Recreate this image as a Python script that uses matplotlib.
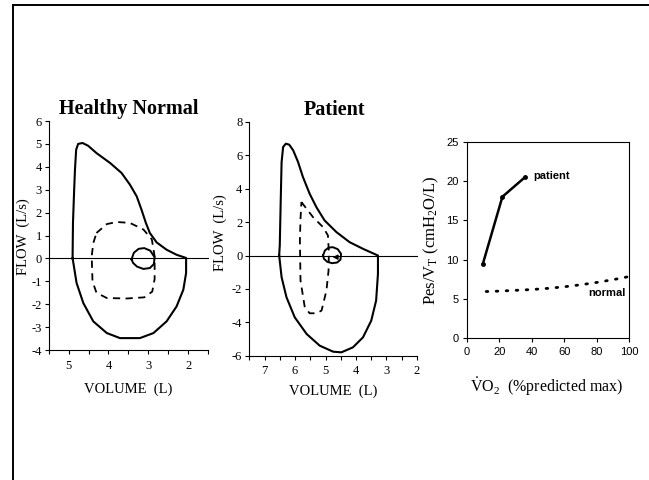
import numpy as np
import matplotlib
matplotlib.use("Agg")
import matplotlib.pyplot as plt
from matplotlib.lines import Line2D

plt.rcParams['font.family'] = ['Liberation Serif', 'DejaVu Serif']
plt.rcParams['mathtext.fontset'] = 'stix'
plt.rcParams['axes.unicode_minus'] = False

# healthy normal flow-volume loops (volume L, flow L/s)
normal_max_vol = [4.90, 4.89, 4.86, 4.84, 4.81, 4.76, 4.65, 4.51, 4.30, 3.96, 3.67, 3.46,
                  3.29, 3.17, 3.06, 2.96, 2.79, 2.54, 2.29, 2.05, 2.05, 2.12, 2.29, 2.54,
                  2.87, 3.21, 3.71, 4.04, 4.38, 4.63, 4.80, 4.88, 4.90]
normal_max_flow = [0.0, 1.55, 3.0, 3.87, 4.75, 5.0, 5.04, 4.92, 4.60, 4.17, 3.73, 3.22,
                   2.71, 2.13, 1.55, 1.11, 0.70, 0.38, 0.16, 0.02, -0.64, -1.37, -2.10, -2.75,
                   -3.26, -3.48, -3.48, -3.26, -2.75, -1.95, -1.07, -0.20, 0.0]
normal_ex_vol = [4.30, 4.04, 3.79, 3.46, 3.12, 2.91, 2.84, 2.84, 2.90, 3.10, 3.54, 4.04,
                 4.30, 4.40, 4.42, 4.38, 4.30]
normal_ex_flow = [1.11, 1.50, 1.59, 1.55, 1.26, 0.83, 0.09, -0.90, -1.45, -1.70, -1.75, -1.73,
                  -1.50, -1.00, 0.09, 0.67, 1.11]
normal_rest_vol = [3.42, 3.36, 3.24, 3.10, 2.95, 2.84, 2.86, 2.96, 3.12, 3.28, 3.38, 3.42]
normal_rest_flow = [-0.04, 0.25, 0.42, 0.45, 0.34, 0.05, -0.25, -0.42, -0.46, -0.36, -0.20, -0.04]

# patient flow-volume loops
patient_max_vol = [6.52, 6.50, 6.47, 6.44, 6.39, 6.30, 6.19, 6.06, 5.90, 5.74, 5.52, 5.30,
                   5.03, 4.64, 4.21, 3.77, 3.28, 3.28, 3.34, 3.50, 3.77, 4.10, 4.48, 4.75,
                   5.19, 5.62, 6.01, 6.28, 6.44, 6.52]
patient_max_flow = [0.0, 0.6, 3.2, 5.6, 6.5, 6.7, 6.64, 6.3, 5.6, 4.7, 3.7, 2.9,
                    2.1, 1.4, 0.8, 0.4, 0.0, -1.1, -2.7, -3.9, -4.9, -5.5, -5.8, -5.76,
                    -5.4, -4.7, -3.7, -2.5, -1.3, 0.0]
patient_ex_vol = [5.79, 5.41, 5.08, 4.92, 4.89, 4.90, 4.97, 5.13, 5.30, 5.52, 5.68, 5.82,
                  5.84, 5.82, 5.79]
patient_ex_flow = [3.20, 2.30, 1.70, 1.20, 0.20, -0.90, -2.10, -3.30, -3.46, -3.46, -3.10, -1.50,
                   0.90, 2.20, 3.20]
patient_rest_vol = [5.08, 5.02, 4.90, 4.76, 4.60, 4.49, 4.51, 4.62, 4.78, 4.94, 5.05, 5.08]
patient_rest_flow = [0.00, 0.30, 0.47, 0.50, 0.38, 0.10, -0.25, -0.42, -0.46, -0.38, -0.20, 0.00]

# Pes/VT vs VO2
patient_vo2 = [10, 22, 36]
patient_pes = [9.5, 18.0, 20.5]
normal_vo2 = [12, 20, 30, 40, 50, 60, 70, 80, 90, 100]
normal_pes = [5.95, 6.0, 6.1, 6.2, 6.35, 6.55, 6.8, 7.1, 7.45, 7.85]

fig = plt.figure(figsize=(6.49, 4.8), dpi=100)

# scanned page border
fig.add_artist(Line2D([12.8 / 649, 12.8 / 649], [0, 1 - 5 / 480], color='black', lw=1.4))
fig.add_artist(Line2D([12.8 / 649, 1], [1 - 5 / 480, 1 - 5 / 480], color='black', lw=1.4))


def loop_axes(rect, xlim, ylim, yticks, title, tx, ylab_x, ylab_y, xlab_y):
    ax = fig.add_axes(rect)
    ax.set_xlim(*xlim)
    ax.set_ylim(*ylim)
    for s in ['top', 'right']:
        ax.spines[s].set_visible(False)
    ax.spines['left'].set_linewidth(0.8)
    ax.spines['bottom'].set_linewidth(0.8)
    lo, hi = min(xlim), max(xlim)
    ticks = np.arange(lo, hi + 0.01, 0.5)
    ax.set_xticks(ticks)
    ax.set_xticklabels([str(int(v)) if float(v).is_integer() else '' for v in ticks])
    ax.set_yticks(yticks)
    ax.tick_params(direction='out', length=3, width=0.8, labelsize=9, pad=2)
    ax.tick_params(axis='x', pad=4)
    ax.axhline(0, color='black', lw=0.8, clip_on=False)
    ax.set_ylabel('FLOW  (L/s)', fontsize=10.5)
    ax.yaxis.set_label_coords(ylab_x, ylab_y)
    ax.set_xlabel('VOLUME  (L)', fontsize=10.5)
    ax.xaxis.set_label_coords(0.5, xlab_y)
    ax.text(tx, 1.052, title, transform=ax.transAxes, ha='center', va='center',
            fontsize=14.5, fontweight='bold')
    return ax


ax1 = loop_axes([0.0750, 0.2708, 0.2455, 0.4771], (5.5, 1.5), (-4, 6), range(-4, 7),
                'Healthy Normal', 0.504, -0.117, 0.493, -0.144)
ax1.plot(normal_max_vol, normal_max_flow, color='black', lw=1.5)
ax1.plot(normal_ex_vol, normal_ex_flow, color='black', lw=1.3, ls=(0, (4, 3)))
ax1.plot(normal_rest_vol, normal_rest_flow, color='black', lw=1.4)

ax2 = loop_axes([0.3841, 0.2590, 0.2584, 0.4869], (7.5, 2.0), (-6, 8), range(-6, 9, 2),
                'Patient', 0.511, -0.135, 0.525, -0.125)
ax2.plot(patient_max_vol, patient_max_flow, color='black', lw=1.5)
ax2.plot(patient_ex_vol, patient_ex_flow, color='black', lw=1.3, ls=(0, (4, 3)))
ax2.plot(patient_rest_vol, patient_rest_flow, color='black', lw=1.4)
ax2.annotate('', xy=(4.86, -0.1), xytext=(4.56, -0.1),
             arrowprops=dict(arrowstyle='-|>', color='black', lw=1.0, mutation_scale=7))

ax3 = fig.add_axes([0.7191, 0.2952, 0.2501, 0.4096])
ax3.set_xlim(0, 100)
ax3.set_ylim(0, 25)
ax3.set_xticks(range(0, 101, 20))
ax3.set_yticks(range(0, 26, 5))
for s in ax3.spines.values():
    s.set_linewidth(0.8)
ax3.tick_params(direction='out', length=3, width=0.8, labelsize=8, pad=3)
for lbl in ax3.get_xticklabels() + ax3.get_yticklabels():
    lbl.set_family('Liberation Sans')
ax3.plot(patient_vo2, patient_pes, color='black', lw=1.8, marker='o', ms=2.5)
ax3.plot(normal_vo2, normal_pes, color='black', lw=2.0, ls=(0, (0.6, 3.0)),
         dash_capstyle='round', clip_on=False)
ax3.text(41, 20.7, 'patient', fontsize=8, fontweight='bold', family='Liberation Sans',
         va='center', ha='left')
ax3.text(75, 5.8, 'normal', fontsize=8, fontweight='bold', family='Liberation Sans',
         va='center', ha='left')
ax3.set_ylabel(r'Pes/V$\mathregular{_T}$ (cmH$\mathregular{_2}$O/L)', fontsize=12)
ax3.yaxis.set_label_coords(-0.158, 0.5)
ax3.set_xlabel(r'$\mathregular{\dot{V}}$O$\mathregular{_2}$  (%predicted max)', fontsize=11.5)
ax3.xaxis.set_label_coords(0.493, -0.187)

fig.savefig('out.png', dpi=100)
